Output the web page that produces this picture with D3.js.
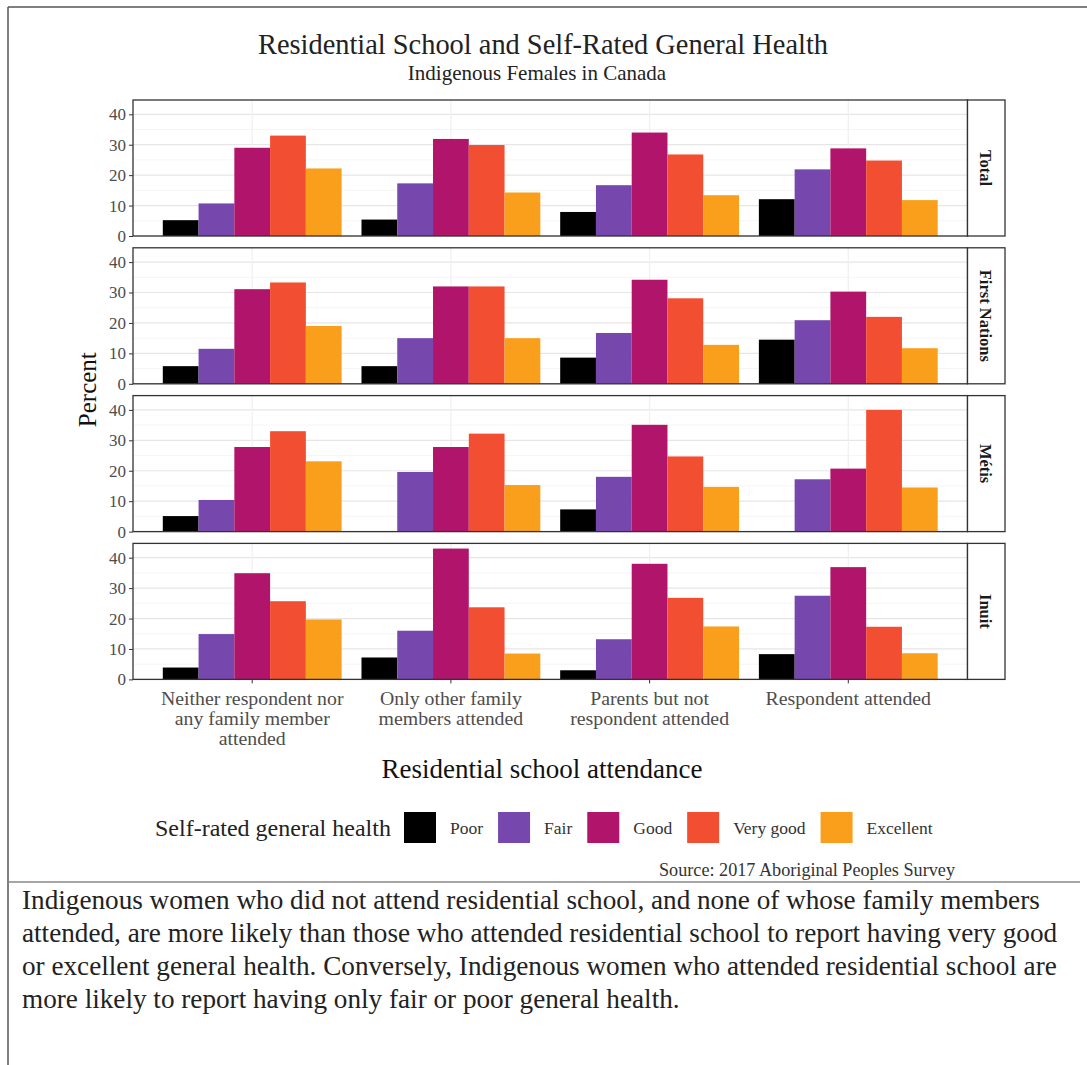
<!DOCTYPE html>
<html>
<head>
<meta charset="utf-8">
<script src="https://cdn.jsdelivr.net/npm/d3@7"></script>
<style>
  body { margin: 0; background: #fff; }
  svg { display: block; font-family: "Liberation Serif", "DejaVu Serif", serif; }
</style>
</head>
<body>
<div id="graphic"></div>
<script>
// groups along the x axis (line-wrapped labels)
const groups = [
  ["Neither respondent nor", "any family member", "attended"],
  ["Only other family", "members attended"],
  ["Parents but not", "respondent attended"],
  ["Respondent attended"]
];
const healthLevels = ["Poor", "Fair", "Good", "Very good", "Excellent"];
const colours = ["#000000", "#7647ad", "#b0156b", "#f24e31", "#f99f1c"];
const panels = ["Total", "First Nations", "Métis", "Inuit"];

// values per panel: one row per attendance group, columns Poor..Excellent (null = suppressed)
const totalVals = [
  [5.2, 10.7, 29.0, 33.0, 22.2],
  [5.4, 17.3, 31.9, 29.9, 14.3],
  [7.9, 16.7, 34.0, 26.8, 13.4],
  [12.1, 21.9, 28.8, 24.8, 11.8]
];
const firstNationsVals = [
  [5.8, 11.5, 31.1, 33.3, 19.0],
  [5.8, 15.0, 32.0, 32.0, 15.0],
  [8.6, 16.7, 34.2, 28.1, 12.8],
  [14.5, 20.9, 30.3, 22.0, 11.7]
];
const metisVals = [
  [5.1, 10.4, 27.8, 33.0, 23.1],
  [null, 19.6, 27.8, 32.2, 15.3],
  [7.3, 18.0, 35.1, 24.7, 14.7],
  [null, 17.2, 20.7, 40.0, 14.5]
];
const inuitVals = [
  [3.9, 14.9, 34.9, 25.7, 19.7],
  [7.2, 16.0, 43.0, 23.7, 8.5],
  [3.0, 13.2, 38.0, 26.8, 17.4],
  [8.3, 27.5, 36.9, 17.3, 8.6]
];
const panelVals = [totalVals, firstNationsVals, metisVals, inuitVals];
const yTicks = [0, 10, 20, 30, 40];

const title = "Residential School and Self-Rated General Health";
const subtitle = "Indigenous Females in Canada";
const yTitle = "Percent";
const xTitle = "Residential school attendance";
const legendTitle = "Self-rated general health";
const sourceText = "Source: 2017 Aboriginal Peoples Survey";
const caption = [
  "Indigenous women who did not attend residential school, and none of whose family members",
  "attended, are more likely than those who attended residential school to report having very good",
  "or excellent general health. Conversely, Indigenous women who attended residential school are",
  "more likely to report having only fair or poor general health."
];

const W = 1087, H = 1065;
const svg = d3.select("#graphic").append("svg").attr("width", W).attr("height", H);

// card frame
svg.append("line").attr("x1", 8).attr("x2", W).attr("y1", 7).attr("y2", 7).attr("stroke", "#555").attr("stroke-width", 1.5);
svg.append("line").attr("x1", 8).attr("x2", 8).attr("y1", 7).attr("y2", H).attr("stroke", "#555").attr("stroke-width", 1.5);
svg.append("line").attr("x1", 8).attr("x2", 1080).attr("y1", 882).attr("y2", 882).attr("stroke", "#888").attr("stroke-width", 1.5);

// titles
svg.append("text").attr("x", 543).attr("y", 54).attr("text-anchor", "middle")
  .attr("font-size", 28.4).attr("fill", "#222").text(title);
svg.append("text").attr("x", 537).attr("y", 80).attr("text-anchor", "middle")
  .attr("font-size", 21).attr("fill", "#222").text(subtitle);

// panel geometry
const left = 133, right = 967.5, stripW = 37.5;
const panelTop = 100, panelH = 136, panelStep = 147.8;

const x = d3.scaleLinear().domain([0.4, 4.6]).range([left, right]);
const barW = x(0.18) - x(0);

panels.forEach((name, p) => {
  const top = panelTop + p * panelStep;
  const y = d3.scaleLinear().domain([0, 44.7]).range([top + panelH, top]);
  const g = svg.append("g");

  // minor and major grid
  [5, 15, 25, 35].forEach(v => {
    g.append("line").attr("x1", left).attr("x2", right).attr("y1", y(v)).attr("y2", y(v))
      .attr("stroke", "#f2f2f2").attr("stroke-width", 0.8);
  });
  yTicks.forEach(v => {
    g.append("line").attr("x1", left).attr("x2", right).attr("y1", y(v)).attr("y2", y(v))
      .attr("stroke", "#e6e6e6").attr("stroke-width", 1.2);
  });
  groups.forEach((_, i) => {
    g.append("line").attr("x1", x(i + 1)).attr("x2", x(i + 1)).attr("y1", top).attr("y2", top + panelH)
      .attr("stroke", "#f0f0f0").attr("stroke-width", 1.2);
  });

  // bars
  panelVals[p].forEach((row, i) => {
    row.forEach((v, k) => {
      if (v === null) return;
      const x0 = x(i + 1) - 2.5 * barW + k * barW;
      g.append("rect").attr("x", x0).attr("width", barW)
        .attr("y", y(v)).attr("height", y(0) - y(v)).attr("fill", colours[k]);
    });
  });

  // y axis
  const ax = g.append("g").attr("transform", `translate(${left},0)`)
    .call(d3.axisLeft(y).tickValues(yTicks).tickSize(4).tickPadding(3));
  ax.select(".domain").remove();
  ax.selectAll("line").attr("stroke", "#333");
  ax.selectAll("text").attr("font-family", "Liberation Serif").attr("font-size", 17).attr("fill", "#4d4d4d");

  // panel border
  g.append("rect").attr("x", left).attr("y", top).attr("width", right - left).attr("height", panelH)
    .attr("fill", "none").attr("stroke", "#333").attr("stroke-width", 1.3);

  // strip
  g.append("rect").attr("x", right).attr("y", top).attr("width", stripW).attr("height", panelH)
    .attr("fill", "#fff").attr("stroke", "#333").attr("stroke-width", 1.3);
  g.append("text")
    .attr("transform", `translate(${right + stripW / 2},${top + panelH / 2}) rotate(90)`)
    .attr("text-anchor", "middle").attr("dy", "0.35em")
    .attr("font-size", 16.5).attr("font-weight", "bold").attr("fill", "#1a1a1a").text(name);
});

// x axis ticks + labels under the last panel
const lastBottom = panelTop + 3 * panelStep + panelH;
groups.forEach((lines, i) => {
  svg.append("line").attr("x1", x(i + 1)).attr("x2", x(i + 1))
    .attr("y1", lastBottom).attr("y2", lastBottom + 4).attr("stroke", "#333");
  lines.forEach((ln, j) => {
    const t = svg.append("text").attr("text-anchor", "middle")
      .attr("x", x(i + 1)).attr("y", lastBottom + 26 + j * 20)
      .attr("font-size", 18).attr("fill", "#4d4d4d").text(ln);
    // source glyphs run a little wider than Liberation Serif at this size
    t.attr("textLength", t.node().getComputedTextLength() * 1.1).attr("lengthAdjust", "spacingAndGlyphs");
  });
});

svg.append("text").attr("x", 542).attr("y", 778).attr("text-anchor", "middle")
  .attr("font-size", 27).attr("fill", "#111").text(xTitle);

svg.append("text").attr("transform", `translate(96,${(panelTop + lastBottom) / 2}) rotate(-90)`)
  .attr("text-anchor", "middle").attr("font-size", 25).attr("fill", "#111").text(yTitle);

// legend
const leg = svg.append("g");
leg.append("text").attr("x", 155).attr("y", 836).attr("font-size", 24)
  .attr("fill", "#222").text(legendTitle);
let lx = 404;
healthLevels.forEach((lvl, k) => {
  leg.append("rect").attr("x", lx).attr("y", 812).attr("width", 32).attr("height", 31).attr("fill", colours[k]);
  const t = leg.append("text").attr("x", lx + 46).attr("y", 834).attr("font-size", 17.5)
    .attr("fill", "#333").text(lvl);
  lx += 46 + t.node().getComputedTextLength() + 15;
});

svg.append("text").attr("x", 955).attr("y", 876).attr("text-anchor", "end")
  .attr("font-size", 18.2).attr("fill", "#333").text(sourceText);

// caption
caption.forEach((ln, j) => {
  svg.append("text").attr("x", 22).attr("y", 909 + j * 33).attr("font-size", 27.2)
    .attr("fill", "#222").text(ln);
});
</script>
</body>
</html>
